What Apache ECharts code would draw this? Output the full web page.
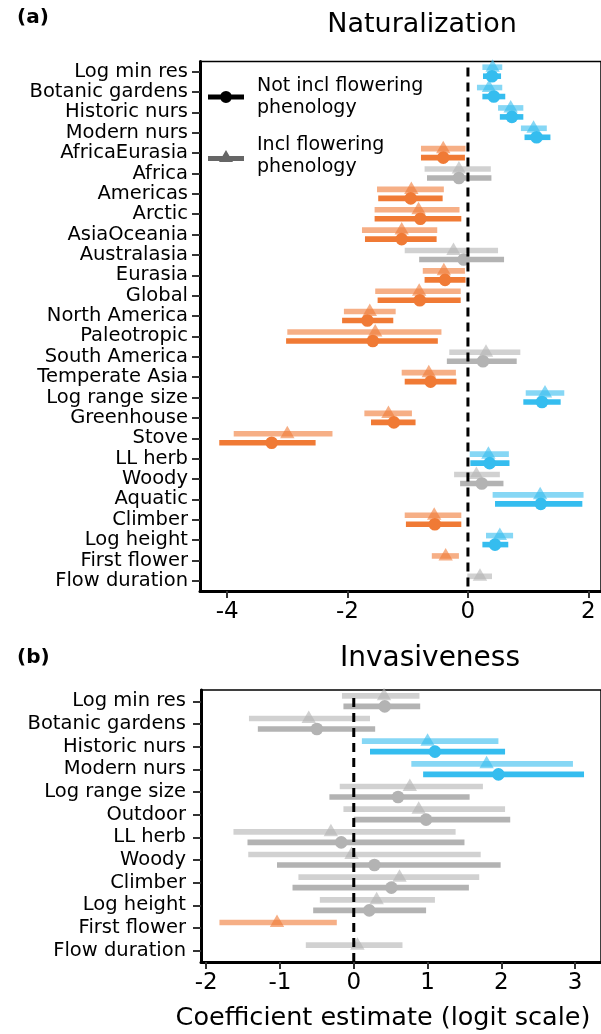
<!DOCTYPE html>
<html>
<head>
<meta charset="utf-8">
<script src="https://cdn.jsdelivr.net/npm/echarts@6/dist/echarts.min.js"></script>
<style>
html,body{margin:0;padding:0;background:#fff;}
#chart{width:601px;height:1034px;}
</style>
</head>
<body>
<div id="chart"></div>
<script>
// ---------- Panel (a) Naturalization ----------
const natCats = ['Log min res','Botanic gardens','Historic nurs','Modern nurs','AfricaEurasia','Africa','Americas','Arctic','AsiaOceania','Australasia','Eurasia','Global','North America','Paleotropic','South America','Temperate Asia','Log range size','Greenhouse','Stove','LL herb','Woody','Aquatic','Climber','Log height','First flower','Flow duration'];
// Not incl flowering phenology (circles)
const natNotEst = [0.40,0.43,0.73,1.14,-0.41,-0.15,-0.95,-0.79,-1.10,-0.07,-0.38,-0.80,-1.67,-1.58,0.25,-0.62,1.23,-1.23,-3.26,0.36,0.23,1.21,-0.55,0.45,null,null];
const natNotLo  = [0.25,0.24,0.53,0.94,-0.78,-0.68,-1.49,-1.55,-1.71,-0.81,-0.72,-1.50,-2.09,-3.02,-0.35,-1.05,0.92,-1.61,-4.13,0.04,-0.13,0.45,-1.03,0.24,null,null];
const natNotHi  = [0.55,0.62,0.92,1.37,-0.05,0.39,-0.42,-0.11,-0.52,0.60,-0.04,-0.12,-1.24,-0.50,0.81,-0.19,1.54,-0.87,-2.53,0.69,0.59,1.90,-0.11,0.67,null,null];
// Incl flowering phenology (triangles)
const natInclEst = [0.41,0.35,0.71,1.09,-0.41,-0.15,-0.94,-0.82,-1.10,-0.24,-0.40,-0.81,-1.63,-1.54,0.30,-0.65,1.28,-1.32,-3.00,0.34,0.14,1.20,-0.56,0.53,-0.37,0.20];
const natInclLo  = [0.24,0.15,0.50,0.88,-0.78,-0.72,-1.51,-1.55,-1.76,-1.05,-0.75,-1.54,-2.06,-3.00,-0.31,-1.10,0.96,-1.72,-3.89,0.03,-0.23,0.41,-1.05,0.30,-0.60,-0.01];
const natInclHi  = [0.57,0.57,0.92,1.31,-0.04,0.38,-0.40,-0.14,-0.51,0.50,-0.05,-0.12,-1.20,-0.44,0.87,-0.20,1.60,-0.93,-2.25,0.68,0.53,1.92,-0.11,0.75,-0.15,0.40];
const natTicks = [-4,-2,0,2];

// ---------- Panel (b) Invasiveness ----------
const invCats = ['Log min res','Botanic gardens','Historic nurs','Modern nurs','Log range size','Outdoor','LL herb','Woody','Climber','Log height','First flower','Flow duration'];
const invNotEst = [0.42,-0.50,1.10,1.96,0.60,0.98,-0.17,0.28,0.51,0.21,null,null];
const invNotLo  = [-0.14,-1.30,0.22,0.94,-0.33,0.00,-1.44,-1.04,-0.83,-0.55,null,null];
const invNotHi  = [0.90,0.29,2.05,3.12,1.57,2.12,1.50,1.99,1.56,0.98,null,null];
const invInclEst = [0.41,-0.61,1.00,1.80,0.76,0.88,-0.31,-0.03,0.62,0.31,-1.04,0.05];
const invInclLo  = [-0.16,-1.42,0.11,0.78,-0.19,-0.14,-1.63,-1.43,-0.75,-0.46,-1.82,-0.65];
const invInclHi  = [0.89,0.22,1.96,2.97,1.75,2.05,1.38,1.72,1.70,1.10,-0.23,0.66];
const invTicks = [-2,-1,0,1,2,3];
const zeroRef = [0];

const NOT_NAME = 'Not incl flowering phenology';
const INCL_NAME = 'Incl flowering phenology';

const ORANGE = '#F07A35', BLUE = '#35BDEF', GRAY = '#B3B3B3';
const FONT = '"DejaVu Sans", Verdana, sans-serif';

function rows(est, lo, hi) {
  const out = [];
  est.forEach((e, i) => { if (e !== null) out.push([lo[i], hi[i], e, i]); });
  return out;
}

function renderer(kind, offset, opacity) {
  return function (params, api) {
    const lo = api.value(0), hi = api.value(1), est = api.value(2), idx = api.value(3);
    const a = api.coord([lo, idx]), b = api.coord([hi, idx]), e = api.coord([est, idx]);
    const y = a[1] + offset;
    const color = hi < 0 ? ORANGE : (lo > 0 ? BLUE : GRAY);
    const bar = {type: 'rect', shape: {x: a[0], y: y - 2.8, width: b[0] - a[0], height: 5.6},
                 style: {fill: color, opacity: opacity}};
    let mark;
    if (kind === 'circle') {
      mark = {type: 'circle', shape: {cx: e[0], cy: y, r: 6.3}, style: {fill: color, opacity: opacity}};
    } else {
      mark = {type: 'polygon', shape: {points: [[e[0], y - 8], [e[0] + 7.2, y + 4.5], [e[0] - 7.2, y + 4.5]]},
              style: {fill: color, opacity: opacity}};
    }
    return {type: 'group', children: [bar, mark]};
  };
}

function seriesFor(gi, est, lo, hi, name, kind, offset, opacity) {
  return {
    type: 'custom', name: name, xAxisIndex: gi, yAxisIndex: gi,
    renderItem: renderer(kind, offset, opacity),
    encode: {x: [0, 1, 2], y: 3},
    data: rows(est, lo, hi), z: 3, silent: true
  };
}

function zeroLine(gi, topPad) {
  return {
    type: 'custom', xAxisIndex: gi, yAxisIndex: gi, z: 10, silent: true,
    data: zeroRef.map(v => [v, 0]),
    encode: {x: 0, y: 1},
    renderItem: function (params, api) {
      const cs = params.coordSys;
      const x = api.coord([api.value(0), 0])[0];
      return {type: 'line', shape: {x1: x, y1: cs.y + topPad, x2: x, y2: cs.y + cs.height},
              style: {stroke: '#000', lineWidth: 3, lineDash: [9, 6]}};
    }
  };
}

const xAxisBase = (gi, min, max, ticks) => ({
  type: 'value', gridIndex: gi, min: min, max: max,
  splitLine: {show: false},
  axisLine: {show: true, onZero: false, lineStyle: {color: '#000', width: 3}},
  axisTick: {show: true, customValues: ticks, length: 7, lineStyle: {color: '#333', width: 2}},
  axisLabel: {show: true, customValues: ticks, fontSize: 23, color: '#000', fontFamily: FONT, margin: 10,
              formatter: v => String(v)}
});

const yAxisBase = (gi, cats, margin) => ({
  type: 'category', gridIndex: gi, data: cats, inverse: true, position: 'left',
  axisLine: {show: true, onZero: false, lineStyle: {color: '#000', width: 3}},
  axisTick: {show: true, alignWithLabel: true, length: 8, lineStyle: {color: '#333', width: 2}},
  axisLabel: {interval: 0, fontSize: 19.5, color: '#000', fontFamily: FONT, margin: margin},
  splitLine: {show: false}
});

const option = {
  animation: false,
  backgroundColor: '#fff',
  textStyle: {fontFamily: FONT},
  grid: [
    {left: 200, top: 61.5, width: 401, height: 529.5, show: true, borderColor: '#000', borderWidth: 1.5, containLabel: false},
    {left: 201, top: 690, width: 400, height: 272, show: true, borderColor: '#000', borderWidth: 1.5, containLabel: false}
  ],
  xAxis: [xAxisBase(0, -4.45, 2.21, natTicks), xAxisBase(1, -2.07, 3.35, invTicks)],
  yAxis: [yAxisBase(0, natCats, 12), yAxisBase(1, invCats, 15)],
  legend: {
    show: true, orient: 'vertical', left: 203, top: 70, padding: 5,
    itemWidth: 36, itemHeight: 12, itemGap: 15, selectedMode: false,
    formatter: n => n.replace(' phenology', '\nphenology'),
    textStyle: {fontSize: 19, lineHeight: 22, color: '#000', fontFamily: FONT, padding: [0, 0, 0, 8]},
    data: [
      {name: NOT_NAME, icon: 'path://M0,4.5H36V9.5H0Z M12,7A6,6 0 1,1 24,7A6,6 0 1,1 12,7Z',
       itemStyle: {color: '#000'}},
      {name: INCL_NAME, icon: 'path://M0,6H36V11H0Z M18,0L25,12L11,12Z',
       itemStyle: {color: '#666'}}
    ]
  },
  series: [
    seriesFor(0, natInclEst, natInclLo, natInclHi, INCL_NAME, 'triangle', -4.5, 0.6),
    seriesFor(0, natNotEst, natNotLo, natNotHi, NOT_NAME, 'circle', 4.5, 1),
    seriesFor(1, invInclEst, invInclLo, invInclHi, INCL_NAME, 'triangle', -5.5, 0.6),
    seriesFor(1, invNotEst, invNotLo, invNotHi, NOT_NAME, 'circle', 5, 1),
    zeroLine(0, 6), zeroLine(1, 8)
  ],
  graphic: [
    {type: 'text', left: 17, top: 8, style: {text: '(a)', fontSize: 20, fontWeight: 'bold', fill: '#000', fontFamily: FONT}},
    {type: 'text', x: 422, y: 25, style: {text: 'Naturalization', fontSize: 27, fill: '#000', fontFamily: FONT, textAlign: 'center', textVerticalAlign: 'middle'}},
    {type: 'text', left: 17, top: 648, style: {text: '(b)', fontSize: 20, fontWeight: 'bold', fill: '#000', fontFamily: FONT}},
    {type: 'text', x: 430, y: 659, style: {text: 'Invasiveness', fontSize: 28, fill: '#000', fontFamily: FONT, textAlign: 'center', textVerticalAlign: 'middle'}},
    {type: 'text', x: 383, y: 1018, style: {text: 'Coefficient estimate (logit scale)', fontSize: 25.5, fill: '#000', fontFamily: FONT, textAlign: 'center', textVerticalAlign: 'middle'}}
  ]
};

const chart = echarts.init(document.getElementById('chart'), null, {renderer: 'canvas'});
chart.setOption(option);
</script>
</body>
</html>
